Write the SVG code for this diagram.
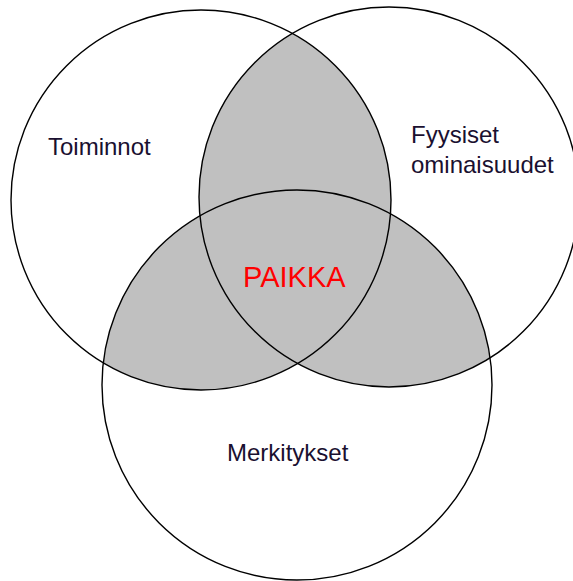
<svg xmlns="http://www.w3.org/2000/svg" width="573" height="581" viewBox="0 0 573 581">
<style>
.ring{fill:none;stroke:#000;stroke-width:1.4}
.ov{fill:#c0c0c0}
.lbl{font-family:"Liberation Sans",Arial,sans-serif;font-size:24px;fill:#1a1030}
.main{font-family:"Liberation Sans",Arial,sans-serif;font-size:29px;fill:#ff0000}
</style>
<defs>
<clipPath id="cR"><circle cx="389" cy="197" r="190"/></clipPath>
<clipPath id="cB"><circle cx="297" cy="385" r="195"/></clipPath>
</defs>
<rect width="573" height="581" fill="#fff"/>
<g id="overlaps">
<circle class="ov" cx="201" cy="200" r="190" clip-path="url(#cR)"/>
<circle class="ov" cx="201" cy="200" r="190" clip-path="url(#cB)"/>
<circle class="ov" cx="389" cy="197" r="190" clip-path="url(#cB)"/>
</g>
<g id="toiminnot">
<circle class="ring" cx="201" cy="200" r="190"/>
<text class="lbl" x="48" y="155">Toiminnot</text>
</g>
<g id="fyysiset">
<circle class="ring" cx="389" cy="197" r="190"/>
<text class="lbl" x="411" y="143">Fyysiset</text>
<text class="lbl" x="411" y="173">ominaisuudet</text>
</g>
<g id="merkitykset">
<circle class="ring" cx="297" cy="385" r="195"/>
<text class="lbl" x="227" y="461">Merkitykset</text>
</g>
<g id="paikka">
<text class="main" x="243" y="287">PAIKKA</text>
</g>
<g id="connectors"/>
</svg>
